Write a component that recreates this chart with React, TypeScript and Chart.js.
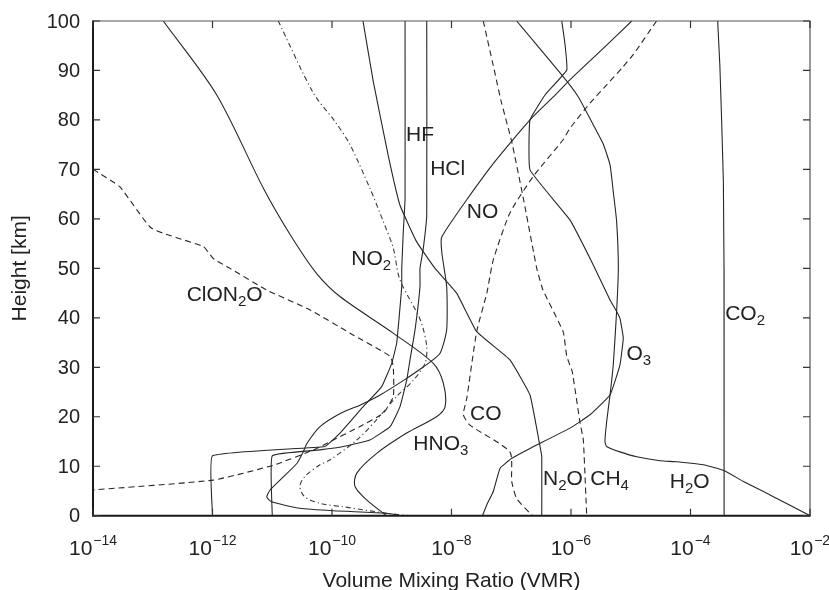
import React, { useEffect, useRef } from 'react';
import { Chart, registerables } from 'chart.js';

Chart.register(...registerables);

// ---- profile data: height [km] and volume mixing ratio ----
const co2Km = [100, 91, 81, 67.5, 50, 0];
const co2Vmr = [2.85e-4, 3.1e-4, 3.3e-4, 3.55e-4, 3.64e-4, 3.65e-4];

const h2oKm = [100, 89.1, 84.7, 79, 75, 70.9, 65.5, 59.5, 50, 41.3, 30.5, 24.4, 19, 15, 14, 12.9, 11.9, 11.1, 10.9, 10.3, 9.1, 6.9, 4.2, 0];
const h2oVmr = [1.23e-7, 7.0e-7, 1.32e-6, 2.36e-6, 3.5e-6, 4.5e-6, 5.1e-6, 5.8e-6, 6.2e-6, 5.8e-6, 5.1e-6, 4.5e-6, 3.95e-6, 3.7e-6, 3.95e-6, 6.6e-6, 1.26e-5, 3.1e-5, 5.9e-5, 1.64e-4, 3.7e-4, 7.7e-4, 2.14e-3, 1.0e-2];

const o3Km = [100, 95.5, 90.1, 85.1, 80, 69.9, 59.8, 50.7, 43.6, 41.3, 39.9, 35.9, 30.5, 24.4, 20.4, 17.7, 13.6, 11.6, 9.6, 4.9, 2.2, 0];
const o3Vmr = [7.0e-7, 7.9e-7, 8.5e-7, 3.7e-7, 2.06e-7, 2.06e-7, 9.6e-7, 2.36e-6, 4.5e-6, 5.8e-6, 6.6e-6, 7.5e-6, 6.6e-6, 4.5e-6, 2.08e-6, 9.6e-7, 2.06e-7, 1.02e-7, 6.5e-8, 5.0e-8, 3.9e-8, 3.3e-8];

const noKm = [100, 94.5, 88.1, 84.7, 80, 70.3, 56.4, 53.1, 46.3, 37.6, 32.8, 30.1, 27.4, 24.4, 22.4, 20.7, 18, 14.6, 12.9, 10.6, 7.2, 5.2, 3.8, 2.8, 1.5, 1.0, 0.5, 0];
const noVmr = [1.04e-5, 3.5e-6, 9.6e-7, 5.1e-7, 2.06e-7, 4.4e-8, 6.9e-9, 6.9e-9, 8.3e-9, 8.3e-9, 6.4e-9, 3.4e-9, 1.6e-9, 6.4e-10, 3.0e-10, 1.4e-10, 6.3e-11, 3.8e-11, 3.3e-11, 2.6e-11, 1.35e-11, 9.2e-12, 8.1e-12, 9.8e-12, 2.9e-11, 1.05e-10, 8.2e-10, 1.4e-9];

const no2Km = [100, 85.4, 79.7, 75, 66.2, 59.5, 54.1, 47.7, 39.6, 34.2, 30.8, 27.4, 24.1, 19.4, 15.3, 11.3, 10.3, 7.9, 5.9, 3.8, 2.5, 1.8, 0.5, 0];
const no2Vmr = [1.26e-11, 4.9e-11, 1.12e-10, 2.0e-10, 4.3e-10, 7.2e-10, 1.06e-9, 1.37e-9, 3.0e-9, 3.85e-9, 3.6e-9, 2.3e-9, 1.21e-9, 5.6e-10, 2.6e-10, 9.3e-11, 6.3e-11, 3.5e-11, 2.9e-11, 3.5e-11, 6.3e-11, 1.55e-10, 8.2e-10, 2.0e-9];

const hno3Km = [100, 85.1, 66.2, 56.8, 49, 44.3, 36.9, 30.8, 26.8, 22, 20, 16.7, 12.6, 8.6, 5.9, 3.2, 0];
const hno3Vmr = [1.5e-13, 1.17e-12, 7.1e-12, 2.0e-11, 5.5e-11, 1.36e-10, 1.06e-9, 4.95e-9, 7.3e-9, 7.8e-9, 5.6e-9, 1.78e-9, 5.6e-10, 2.6e-10, 2.43e-10, 3.8e-10, 8.2e-10];

const hfKm = [100, 64, 57.4, 50, 46.3, 34.9, 30.8, 26.1, 22, 16.7, 14, 12.1, 0];
const hfVmr = [1.67e-9, 1.67e-9, 1.56e-9, 1.47e-9, 1.47e-9, 1.21e-9, 1.0e-9, 6.8e-10, 3.3e-10, 1.36e-10, 7.6e-11, 1.0e-12, 1.0e-12];

const hclKm = [100, 60.8, 54, 50, 46.3, 37.5, 31.5, 27.4, 22, 18, 15.3, 14, 13.3, 12.1, 0];
const hclVmr = [3.85e-9, 3.85e-9, 3.37e-9, 2.97e-9, 2.97e-9, 2.45e-9, 2.02e-9, 1.78e-9, 1.37e-9, 9.4e-10, 4.3e-10, 1.55e-10, 6.3e-11, 1.0e-11, 1.0e-11];

const clono2Km = [70, 66.5, 58.1, 54.4, 52, 50, 45.6, 41.6, 36.9, 32.2, 30.1, 24.1, 20.7, 18, 14.6, 13.3, 10.2, 7.2, 5.2];
const clono2Vmr = [1.0e-14, 2.8e-14, 9.6e-14, 7.0e-13, 1.03e-12, 1.96e-12, 8.1e-12, 4.3e-11, 2.0e-10, 9.4e-10, 1.06e-9, 1.06e-9, 7.2e-10, 2.9e-10, 8.1e-11, 4.9e-11, 1.04e-11, 1.03e-12, 1.0e-14];

const n2oKm = [100, 87.8, 72.9, 62.8, 55.4, 50, 45, 37.2, 31.5, 24.4, 14.3, 12, 0];
const n2oVmr = [3.3e-10, 4.9e-10, 8.7e-10, 1.37e-9, 2.6e-9, 5.3e-9, 1.22e-8, 2.64e-8, 9.5e-8, 2.06e-7, 3.0e-7, 3.24e-7, 3.24e-7];

const ch4Km = [100, 91, 84, 75.6, 64.2, 50, 45.6, 37.2, 32.2, 29.1, 18.7, 15.3, 0];
const ch4Vmr = [3.4e-8, 5.0e-8, 6.7e-8, 1.02e-7, 1.59e-7, 2.67e-7, 3.4e-7, 7.4e-7, 8.5e-7, 1.05e-6, 1.42e-6, 1.61e-6, 1.83e-6];

const coKm = [100, 93.2, 90.8, 86.4, 83.4, 78.3, 76, 68.6, 61.2, 51.7, 45, 37.2, 23.7, 20.4, 18.3, 12.9, 6.9, 3.5, 0.5, 0];
const coVmr = [2.7e-5, 1.1e-5, 7.5e-6, 3.5e-6, 2.08e-6, 9.6e-7, 7.4e-7, 2.34e-7, 9.5e-8, 5.0e-8, 3.9e-8, 2.64e-8, 1.8e-8, 1.58e-8, 2.04e-8, 9.5e-8, 1.02e-7, 1.23e-7, 2.06e-7, 2.3e-7];

// ---- axis ticks ----
const xTickExponents = [-14, -12, -10, -8, -6, -4, -2];
const yTickValues = [0, 10, 20, 30, 40, 50, 60, 70, 80, 90, 100];

// ---- curve labels ('_' marks a subscript character), anchored at left/baseline ----
const labelTexts = ['HF', 'HCl', 'NO', 'NO_2', 'ClON_2O', 'HNO_3', 'CO', 'N_2O', 'CH_4', 'H_2O', 'O_3', 'CO_2'];
const labelVmr = [1.73e-9, 4.4e-9, 1.8e-8, 2.1e-10, 3.7e-13, 2.3e-9, 2.04e-8, 3.4e-7, 2.1e-6, 4.5e-5, 8.5e-6, 3.8e-4];
const labelKm = [75.7, 68.9, 60.2, 50.7, 43.3, 13.3, 19.4, 6.2, 6.2, 5.6, 31.5, 39.6];

const FONT = '"Liberation Sans", Arial, Helvetica, sans-serif';
const INK = '#222222';
const LINE = '#262626';

type Style = 'solid' | 'dash' | 'dashdot';

const profiles: { km: number[]; vmr: number[]; style: Style; tension: number }[] = [
  { km: co2Km, vmr: co2Vmr, style: 'solid', tension: 0 },
  { km: h2oKm, vmr: h2oVmr, style: 'solid', tension: 0.15 },
  { km: o3Km, vmr: o3Vmr, style: 'solid', tension: 0.1 },
  { km: noKm, vmr: noVmr, style: 'solid', tension: 0.2 },
  { km: no2Km, vmr: no2Vmr, style: 'dashdot', tension: 0.3 },
  { km: hno3Km, vmr: hno3Vmr, style: 'solid', tension: 0.3 },
  { km: hfKm, vmr: hfVmr, style: 'solid', tension: 0.1 },
  { km: hclKm, vmr: hclVmr, style: 'solid', tension: 0.1 },
  { km: clono2Km, vmr: clono2Vmr, style: 'dash', tension: 0.15 },
  { km: n2oKm, vmr: n2oVmr, style: 'solid', tension: 0.1 },
  { km: ch4Km, vmr: ch4Vmr, style: 'dash', tension: 0.1 },
  { km: coKm, vmr: coVmr, style: 'dash', tension: 0.2 },
];

function drawRichText(ctx: CanvasRenderingContext2D, text: string, x: number, y: number, size: number, subSize: number, subDrop: number) {
  let cx = x;
  let i = 0;
  while (i < text.length) {
    if (text[i] === '_') {
      const ch = text[i + 1];
      ctx.font = `${subSize}px ${FONT}`;
      ctx.fillText(ch, cx, y + subDrop);
      cx += ctx.measureText(ch).width;
      i += 2;
    } else {
      let run = '';
      while (i < text.length && text[i] !== '_') {
        run += text[i];
        i++;
      }
      ctx.font = `${size}px ${FONT}`;
      ctx.fillText(run, cx, y);
      cx += ctx.measureText(run).width;
    }
  }
}

const framePlugin = {
  id: 'profileFrame',
  afterDraw(chart: any) {
    const { ctx, chartArea, scales } = chart;
    const { left, right, top, bottom } = chartArea;
    const xs = scales.x;
    const ys = scales.y;
    ctx.save();

    // frame
    ctx.strokeStyle = '#555555';
    ctx.lineWidth = 1.2;
    ctx.beginPath();
    ctx.moveTo(left, top);
    ctx.lineTo(right, top);
    ctx.lineTo(right, bottom);
    ctx.stroke();
    ctx.strokeStyle = '#1a1a1a';
    ctx.lineWidth = 2;
    ctx.beginPath();
    ctx.moveTo(left, top - 0.6);
    ctx.lineTo(left, bottom);
    ctx.lineTo(right + 0.6, bottom);
    ctx.stroke();

    // inward ticks
    const tl = 7;
    ctx.lineWidth = 1.2;
    ctx.strokeStyle = '#333333';
    ctx.beginPath();
    xTickExponents.forEach((e) => {
      const px = xs.getPixelForValue(Math.pow(10, e));
      ctx.moveTo(px, bottom);
      ctx.lineTo(px, bottom - tl);
      ctx.moveTo(px, top);
      ctx.lineTo(px, top + tl);
    });
    yTickValues.forEach((v) => {
      const py = ys.getPixelForValue(v);
      ctx.moveTo(left, py);
      ctx.lineTo(left + tl, py);
      ctx.moveTo(right, py);
      ctx.lineTo(right - tl, py);
    });
    ctx.stroke();

    ctx.fillStyle = INK;

    // x tick labels: 10 with superscript exponent
    ctx.textBaseline = 'alphabetic';
    ctx.textAlign = 'left';
    xTickExponents.forEach((e) => {
      const px = xs.getPixelForValue(Math.pow(10, e));
      const base = '10';
      const exp = '\u2212' + Math.abs(e);
      ctx.font = `21px ${FONT}`;
      const wb = ctx.measureText(base).width;
      ctx.font = `14px ${FONT}`;
      const we = ctx.measureText(exp).width;
      const start = px - (wb + 1 + we) / 2;
      ctx.font = `21px ${FONT}`;
      ctx.fillText(base, start, bottom + 39.5);
      ctx.font = `14px ${FONT}`;
      ctx.fillText(exp, start + wb + 1, bottom + 29.5);
    });

    // y tick labels
    ctx.font = `20px ${FONT}`;
    ctx.textAlign = 'right';
    ctx.textBaseline = 'middle';
    yTickValues.forEach((v) => {
      const py = ys.getPixelForValue(v);
      ctx.fillText(String(v), left - 13, py + 1);
    });

    // axis titles
    ctx.font = `21px ${FONT}`;
    ctx.textAlign = 'center';
    ctx.textBaseline = 'alphabetic';
    ctx.fillText('Volume Mixing Ratio (VMR)', (left + right) / 2, 586.5);
    ctx.save();
    ctx.translate(26, (top + bottom) / 2);
    ctx.rotate(-Math.PI / 2);
    ctx.fillText('Height [km]', 0, 0);
    ctx.restore();

    // curve labels
    ctx.textAlign = 'left';
    ctx.textBaseline = 'alphabetic';
    labelTexts.forEach((t, i) => {
      const px = xs.getPixelForValue(labelVmr[i]);
      const py = ys.getPixelForValue(labelKm[i]);
      drawRichText(ctx, t, px, py, 21, 15, 5);
    });

    ctx.restore();
  },
};

export default function App() {
  const canvasRef = useRef<HTMLCanvasElement | null>(null);

  useEffect(() => {
    const canvas = canvasRef.current;
    if (!canvas) return;
    const datasets = profiles.map((p) => ({
      data: p.km.map((h, i) => ({ x: p.vmr[i], y: h })),
      showLine: true,
      borderColor: p.style === 'dashdot' ? '#3a3a3a' : LINE,
      borderWidth: 1.1,
      borderDash: p.style === 'dash' ? [6, 4] : p.style === 'dashdot' ? [5, 3, 1.2, 3] : [],
      pointRadius: 0,
      pointHoverRadius: 0,
      fill: false,
      tension: p.tension,
    }));
    const chart = new Chart(canvas, {
      type: 'scatter',
      data: { datasets },
      options: {
        responsive: false,
        animation: false,
        events: [],
        layout: { padding: { top: 21, right: 19, left: 0, bottom: 0 } },
        plugins: { legend: { display: false }, tooltip: { enabled: false } },
        scales: {
          x: {
            type: 'logarithmic',
            min: 1e-14,
            max: 1e-2,
            ticks: { display: false },
            grid: { display: false },
            border: { display: false },
            afterFit: (s: any) => {
              s.height = 74.3;
            },
          },
          y: {
            type: 'linear',
            min: 0,
            max: 100,
            ticks: { display: false },
            grid: { display: false },
            border: { display: false },
            afterFit: (s: any) => {
              s.width = 93;
            },
          },
        },
      },
      plugins: [framePlugin],
    } as any);
    return () => chart.destroy();
  }, []);

  return (
    <div style={{ position: 'absolute', left: 0, top: 0, width: 829, height: 590, background: '#ffffff' }}>
      <canvas ref={canvasRef} width={829} height={590} style={{ display: 'block' }} />
    </div>
  );
}
